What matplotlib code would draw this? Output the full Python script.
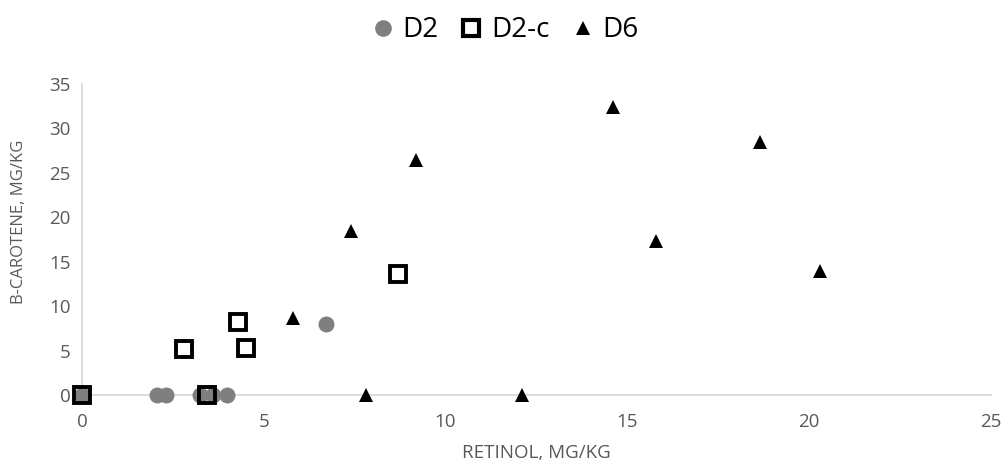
import matplotlib
matplotlib.use("Agg")
import matplotlib.pyplot as plt
from matplotlib.lines import Line2D

plt.rcParams['font.family'] = ['Open Sans', 'DejaVu Sans']

# Retinol (x) and beta-carotene (y), mg/kg
d2_x = [0.0, 2.05, 2.3, 3.25, 3.6, 4.0, 6.7]
d2_y = [0.0, 0.0, 0.0, 0.0, 0.0, 0.0, 8.0]

d2c_x = [0.0, 2.8, 3.45, 4.3, 4.5, 8.7]
d2c_y = [0.0, 5.2, 0.0, 8.2, 5.3, 13.6]

d6_x = [5.8, 7.4, 7.8, 9.2, 12.1, 14.6, 15.8, 18.65, 20.3]
d6_y = [8.7, 18.5, 0.0, 26.5, 0.0, 32.4, 17.3, 28.5, 14.0]

x_ticks = [0, 5, 10, 15, 20, 25]
y_ticks = [0, 5, 10, 15, 20, 25, 30, 35]

fig = plt.figure(figsize=(10.07, 4.66), dpi=100)
ax = fig.add_axes([0.0814, 0.1524, 0.9026, 0.6673])

grey_txt = '#595959'
axis_col = '#d9d9d9'

ax.plot(d2_x, d2_y, linestyle='none', marker='o', markersize=11.5,
        color='#7f7f7f', markeredgewidth=0, clip_on=False, zorder=3, label='D2')
ax.plot(d2c_x, d2c_y, linestyle='none', marker='s', markersize=11,
        markerfacecolor='none', markeredgecolor='black', markeredgewidth=2.8,
        clip_on=False, zorder=4, label='D2-c')
ax.plot(d6_x, d6_y, linestyle='none', marker='^', markersize=10,
        color='black', markeredgewidth=0, clip_on=False, zorder=5, label='D6')

ax.set_xlim(0, 25)
ax.set_ylim(0, 35)
ax.set_xticks(x_ticks)
ax.set_yticks(y_ticks)

for side in ['top', 'right']:
    ax.spines[side].set_visible(False)
for side in ['left', 'bottom']:
    ax.spines[side].set_color(axis_col)
    ax.spines[side].set_linewidth(1.3)

ax.tick_params(axis='both', length=0, labelsize=13.5, labelcolor=grey_txt)
ax.tick_params(axis='y', pad=8)
ax.tick_params(axis='x', pad=13)

ax.set_xlabel('RETINOL, MG/KG', fontsize=13.5, color=grey_txt)
ax.set_ylabel('B-CAROTENE, MG/KG', fontsize=12, color=grey_txt)
ax.xaxis.set_label_coords(0.5, -0.158)
ax.yaxis.set_label_coords(-0.061, 0.556)

handles = [
    Line2D([], [], linestyle='none', marker='o', markersize=12, color='#7f7f7f', markeredgewidth=0),
    Line2D([], [], linestyle='none', marker='s', markersize=11.5, markerfacecolor='none',
           markeredgecolor='black', markeredgewidth=3),
    Line2D([], [], linestyle='none', marker='^', markersize=10, color='black', markeredgewidth=0),
]
fig.legend(handles, ['D2', 'D2-c', 'D6'], loc='center', bbox_to_anchor=(0.5, 0.935),
           ncol=3, frameon=False, fontsize=20, handletextpad=0.2, columnspacing=0.7,
           handlelength=1.0)

fig.savefig('out.png', dpi=100)
